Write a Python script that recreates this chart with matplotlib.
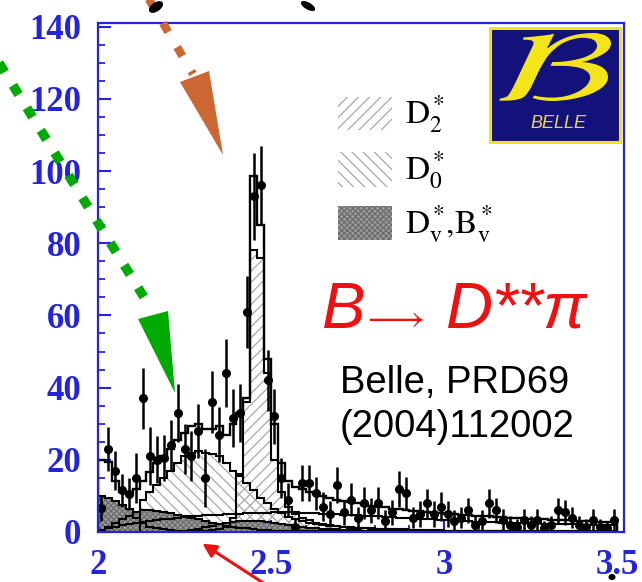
import numpy as np
import matplotlib
matplotlib.use("Agg")
import matplotlib.pyplot as plt
from matplotlib.patches import Polygon, Rectangle, Ellipse, PathPatch, FancyArrowPatch
from matplotlib.lines import Line2D
from matplotlib.ticker import MultipleLocator, FuncFormatter
from matplotlib.textpath import TextPath
from matplotlib.font_manager import FontProperties
from matplotlib.transforms import Affine2D

plt.rcParams['mathtext.fontset'] = 'stix'
plt.rcParams['hatch.linewidth'] = 0.9

W, H = 642, 582

# M(D pi) binning, GeV/c^2
mass_lo, mass_hi, bin_w = 2.0, 3.5, 0.02
edges = np.round(np.linspace(mass_lo, mass_hi, int(round((mass_hi - mass_lo) / bin_w)) + 1), 3)
centers = 0.5 * (edges[:-1] + edges[1:])

# events / bin
data_counts = [6.6, 23, 17, 11.5, 10.5, 15, 37, 21, 20, 20.5,
               24, 33, 23, 21, 28, 15, 36, 27, 44, 31.5,
               33, 61, 93, 96, 42, 32, 15, 9, 1.5, 13.5,
               13.5, 10.7, 7, 5, 13, 5.5, 9, 4, 8, 6,
               8, 3, 5.5, 12, 10.7, 4, 5, 8, 5, 7,
               5, 3, 4, 6, 2, 3, 8, 6, 3.3, 2,
               1.5, 3.3, 2, 3.3, 1, 2, 6, 5.5, 4, 2,
               1.5, 3.3, 1.5, 1, 3.3]
data_errors = [3.5, 6, 5.5, 4.5, 4.5, 7, 8.5, 8, 6.5, 6.5,
               7, 8, 7, 7, 7.5, 8, 8.5, 7.5, 9.5, 8,
               8, 10, 12, 11, 8.5, 7.5, 5.5, 4.5, 2.5, 5,
               5, 4.5, 4, 3.5, 5, 3.5, 4.5, 3, 4.5, 3.5,
               4.5, 3, 3.5, 5, 4.5, 3, 3.5, 4, 3.5, 4,
               3.5, 3, 3, 3.5, 2.5, 3, 4, 3.5, 3, 2.5,
               2, 3, 2.5, 3, 2, 2.5, 3.5, 3.5, 3, 2.5,
               2, 3, 2, 2, 3]

fit_total = [20, 19.5, 14, 11, 10.5, 12, 14, 16.5, 19, 21,
             23, 25.5, 27.5, 29.5, 30, 28.5, 28.5, 29.5, 27, 30,
             33, 37, 98.6, 85, 48, 30, 19, 14, 12.5, 12,
             11, 10.5, 10, 9.5, 9, 8.5, 8.2, 8, 7.6, 7.3,
             7, 6.8, 6.5, 6.3, 6.1, 5.9, 5.7, 5.5, 5.3, 5.2,
             5, 4.9, 4.8, 4.6, 4.5, 4.4, 4.3, 4.2, 4.1, 4.0,
             3.9, 3.8, 3.7, 3.6, 3.5, 3.4, 3.3, 3.3, 3.2, 3.1,
             3.0, 3.0, 2.9, 2.8, 2.8]

fit_d2 = [0, 0, 0, 0, 0, 0, 0, 0, 0, 0,
          0, 0, 0, 0, 0.2, 0.3, 0.5, 0.8, 1.5, 4,
          16, 36, 78, 76, 44, 20, 11, 7, 5, 4,
          3.2, 2.6, 2.2, 1.9, 1.6, 1.4, 1.2, 1.1, 1.0, 0.9,
          0.8, 0.7, 0.7, 0.6, 0.6, 0.5, 0.5, 0.4, 0.4, 0.4,
          0.3, 0.3, 0.3, 0.3, 0.3, 0.3, 0.2, 0.2, 0.2, 0.2,
          0.2, 0.2, 0.2, 0.2, 0.2, 0.2, 0.2, 0.2, 0.2, 0.2,
          0.1, 0.1, 0.1, 0.1, 0.1]

fit_d0 = [0, 0, 0, 0, 0, 0, 9, 11, 13, 15,
          17, 19, 21, 22, 22.5, 22, 21.5, 21, 19, 17,
          15.5, 13.5, 11.5, 9.5, 8, 6.5, 5.2, 4.2, 3.5, 3,
          2.6, 2.3, 2.0, 1.8, 1.6, 1.4, 1.3, 1.2, 1.1, 1.0,
          0.9, 0.8, 0.8, 0.7, 0.7, 0.6, 0.6, 0.5, 0.5, 0.5,
          0.4, 0.4, 0.4, 0.4, 0.4, 0.4, 0.4, 0.4, 0.4, 0.4,
          0.3, 0.3, 0.3, 0.3, 0.3, 0.3, 0.3, 0.3, 0.3, 0.3,
          0.3, 0.3, 0.3, 0.3, 0.3]

fit_dv = [10, 9.5, 8.5, 7.5, 6.5, 4, 2.5, 1.5, 1, 0.7,
          0.5, 0.4, 0.4, 0.5, 0.8, 1.3, 1.8, 2.2, 2.5, 2.8,
          3, 3, 3, 3, 2.8, 2.5, 2.2, 1.9, 1.6, 1.4,
          1.2, 1.0, 0.9, 0.8, 0.7, 0.6, 0.5, 0.5, 0.4, 0.4,
          0.4, 0.3, 0.3, 0.3, 0.3, 0.3, 0.3, 0.2, 0.2, 0.2,
          0.2, 0.2, 0.2, 0.2, 0.2, 0.2, 0.2, 0.2, 0.2, 0.2,
          0.1, 0.1, 0.1, 0.1, 0.1, 0.1, 0.1, 0.1, 0.1, 0.1,
          0.1, 0.1, 0.1, 0.1, 0.1]

fit_bv = [0.5, 1.5, 2.5, 3.5, 4.5, 5.5, 6, 6, 5.8, 5.5,
          5.2, 4.8, 4.4, 4, 3.5, 3, 2.6, 2.2, 1.8, 1.5,
          1.2, 1, 0.8, 0.6, 0.5, 0.4, 0.3, 0.3, 0.2, 0.2,
          0.2, 0.2, 0.2, 0.2, 0.2, 0.1, 0.1, 0.1, 0.1, 0.1,
          0, 0, 0, 0, 0, 0, 0, 0, 0, 0,
          0, 0, 0, 0, 0, 0, 0, 0, 0, 0,
          0, 0, 0, 0, 0, 0, 0, 0, 0, 0,
          0, 0, 0, 0, 0]

fit_bkg = [0.5, 1, 1.5, 2, 2.3, 2.6, 2.9, 3.1, 3.3, 3.5,
           3.7, 3.9, 4.1, 4.3, 4.5, 4.6, 4.7, 4.8, 4.9, 5.0,
           5.1, 5.2, 5.3, 5.4, 5.4, 5.5, 5.5, 5.5, 5.5, 5.4,
           5.3, 5.2, 5.1, 5.0, 4.9, 4.8, 4.7, 4.6, 4.5, 4.4,
           4.3, 4.2, 4.1, 4.0, 3.9, 3.8, 3.7, 3.6, 3.5, 3.4,
           3.3, 3.2, 3.1, 3.0, 2.9, 2.9, 2.8, 2.7, 2.6, 2.6,
           2.5, 2.5, 2.4, 2.4, 2.3, 2.3, 2.2, 2.2, 2.1, 2.1,
           2.0, 2.0, 2.0, 1.9, 1.9]

x_ticks = [2.0, 2.5, 3.0, 3.5]
y_ticks = [0, 20, 40, 60, 80, 100, 120, 140]

BLUE = '#2424dc'
HATCH_D2 = '#a8a8a8'
HATCH_D0 = '#a8a8a8'
VIRT_FACE = '#9c9c9c'
VIRT_HATCH = '#6c6c6c'
RED = '#ee1111'


def fx(px):
    return px / W


def fy(py):
    return 1 - py / H


# pixel coordinates with origin at the top-left corner of the canvas
pix = Affine2D().scale(1, -1).translate(0, H)

fig = plt.figure(figsize=(W / 100, H / 100), dpi=100)
ax = fig.add_axes([fx(98), fy(532), (624 - 98) / W, (532 - 23) / H])
ax.set_xlim(2.0, 3.52)
ax.set_ylim(0, 141)

# component fills
ax.stairs(fit_d0, edges, fill=True, facecolor='none', edgecolor=HATCH_D0,
          hatch='\\\\\\', linewidth=0, zorder=1)
ax.stairs(fit_d2, edges, fill=True, facecolor='none', edgecolor=HATCH_D2,
          hatch='///', linewidth=0, zorder=1)
for comp in (fit_bv, fit_dv):
    ax.stairs(comp, edges, fill=True, facecolor=VIRT_FACE, edgecolor=VIRT_HATCH,
              hatch='xxxxxx', linewidth=0, zorder=2)

# outlines
for comp in (fit_bkg, fit_bv, fit_dv, fit_d0, fit_d2):
    ax.stairs(comp, edges, baseline=0, color='black', linewidth=1.5, zorder=3)
ax.stairs(fit_total, edges, baseline=0, color='black', linewidth=1.7, zorder=3)

# data
ax.errorbar(centers, data_counts, yerr=data_errors, fmt='o', color='black',
            ms=5.5, elinewidth=1.8, capsize=0, zorder=5)

# axes styling
for sp in ax.spines.values():
    sp.set_color(BLUE)
    sp.set_linewidth(1.6)
    sp.set_zorder(6)
ax.set_xticks(x_ticks)
ax.set_yticks(y_ticks)
ax.xaxis.set_minor_locator(MultipleLocator(0.1))
ax.yaxis.set_minor_locator(MultipleLocator(5))
ax.xaxis.set_major_formatter(FuncFormatter(lambda v, p: f'{v:g}'))
ax.tick_params(which='both', direction='in', color=BLUE, top=False, right=False)
ax.tick_params(which='major', length=9, width=1.5, pad=12,
               labelsize=25, labelcolor=BLUE)
ax.tick_params(which='minor', length=5, width=1.3)
for lab in ax.get_xticklabels() + ax.get_yticklabels():
    lab.set_family('Liberation Serif')
    lab.set_fontweight('bold')

# legend
legend_rows = [(97, 130, '///', HATCH_D2, 'none', r'$\mathrm{D}_2^*$'),
               (152, 187, '\\\\\\', HATCH_D0, 'none', r'$\mathrm{D}_0^*$'),
               (206, 240, 'xxxxxx', VIRT_HATCH, VIRT_FACE,
                r'$\mathrm{D}_\mathrm{v}^*\!,\!\mathrm{B}_\mathrm{v}^*$')]
for top, bot, hatch, ec, fc, label in legend_rows:
    fig.patches.append(Rectangle((fx(338), fy(bot)), 54 / W, (bot - top) / H,
                                 transform=fig.transFigure, facecolor=fc,
                                 edgecolor=ec, hatch=hatch, linewidth=0))
    fig.text(fx(405), fy((top + bot) / 2 + 1), label, fontsize=24,
             ha='left', va='center', color='black')

# Belle logo
fig.patches.append(Rectangle((490, 28), 130, 114, transform=pix,
                             facecolor='#12127a', edgecolor='#f2e21c',
                             linewidth=2.2, zorder=3))
tp = TextPath((0, 0), r'$\mathcal{B}$', size=60,
              prop=FontProperties(family='STIXGeneral'))
bb = tp.get_extents()
logo_tf = (Affine2D().translate(-bb.x0, -bb.y1)
           .scale(112 / bb.width, -68 / bb.height)
           .translate(499, 33)) + pix
fig.patches.append(PathPatch(tp, transform=logo_tf, facecolor='#f4e41a',
                             edgecolor='none', zorder=4))
fig.text(fx(558), fy(123), 'BELLE', fontsize=13, style='italic',
         family='Liberation Sans', color='#e6d84e', ha='center', va='center',
         zorder=5)

# decay label and reference
fig.text(fx(322), fy(328), 'B', fontsize=47, style='italic',
         family='Liberation Sans', color=RED, ha='left', va='baseline')
fig.text(fx(367), fy(329), '\u27f6', fontsize=26, family='STIXGeneral',
         color=RED, ha='left', va='baseline')
fig.text(fx(446), fy(328), 'D**\u03c0', fontsize=47, style='italic',
         family=['Liberation Sans', 'DejaVu Sans'], color=RED,
         ha='left', va='baseline')
fig.text(fx(340), fy(393), 'Belle, PRD69', fontsize=27.5,
         family='Liberation Sans', color='black', ha='left', va='baseline')
fig.text(fx(340), fy(437), '(2004)112002', fontsize=27.5,
         family='Liberation Sans', color='black', ha='left', va='baseline')

# pointer arrows
orange = '#cc6633'
ln = Line2D([147, 193], [-4, 74], transform=pix, color=orange, linewidth=6,
            dash_capstyle='butt', zorder=7)
ln.set_dashes((1.25, 2.1))
fig.lines.append(ln)
fig.patches.append(Polygon([(180, 82), (209, 71), (223, 155)], closed=True,
                           transform=pix, facecolor=orange, edgecolor='none',
                           zorder=7))

green = '#00aa00'
ln = Line2D([-4, 150], [58, 307], transform=pix, color=green, linewidth=6.8,
            dash_capstyle='butt', zorder=7)
ln.set_dashes((1.15, 1.65))
fig.lines.append(ln)
fig.patches.append(Polygon([(138, 319), (168, 311), (175, 393)], closed=True,
                           transform=pix, facecolor=green, edgecolor='none',
                           zorder=7))

fig.patches.append(FancyArrowPatch((268, 586), (200, 542), transform=pix,
                                   arrowstyle='-|>,head_length=8,head_width=4',
                                   color=RED, linewidth=2.2,
                                   mutation_scale=1, zorder=7))

# stray ink strokes along the top and bottom edges
for cx, cy, w, h, ang in [(156, 7, 16, 9, -35), (308, 6, 16, 7, 30),
                          (612, 577, 7, 6, 0)]:
    fig.patches.append(Ellipse((cx, cy), w, h, angle=ang, transform=pix,
                               facecolor='black', edgecolor='none', zorder=7))

fig.savefig('out.png', dpi=100)
